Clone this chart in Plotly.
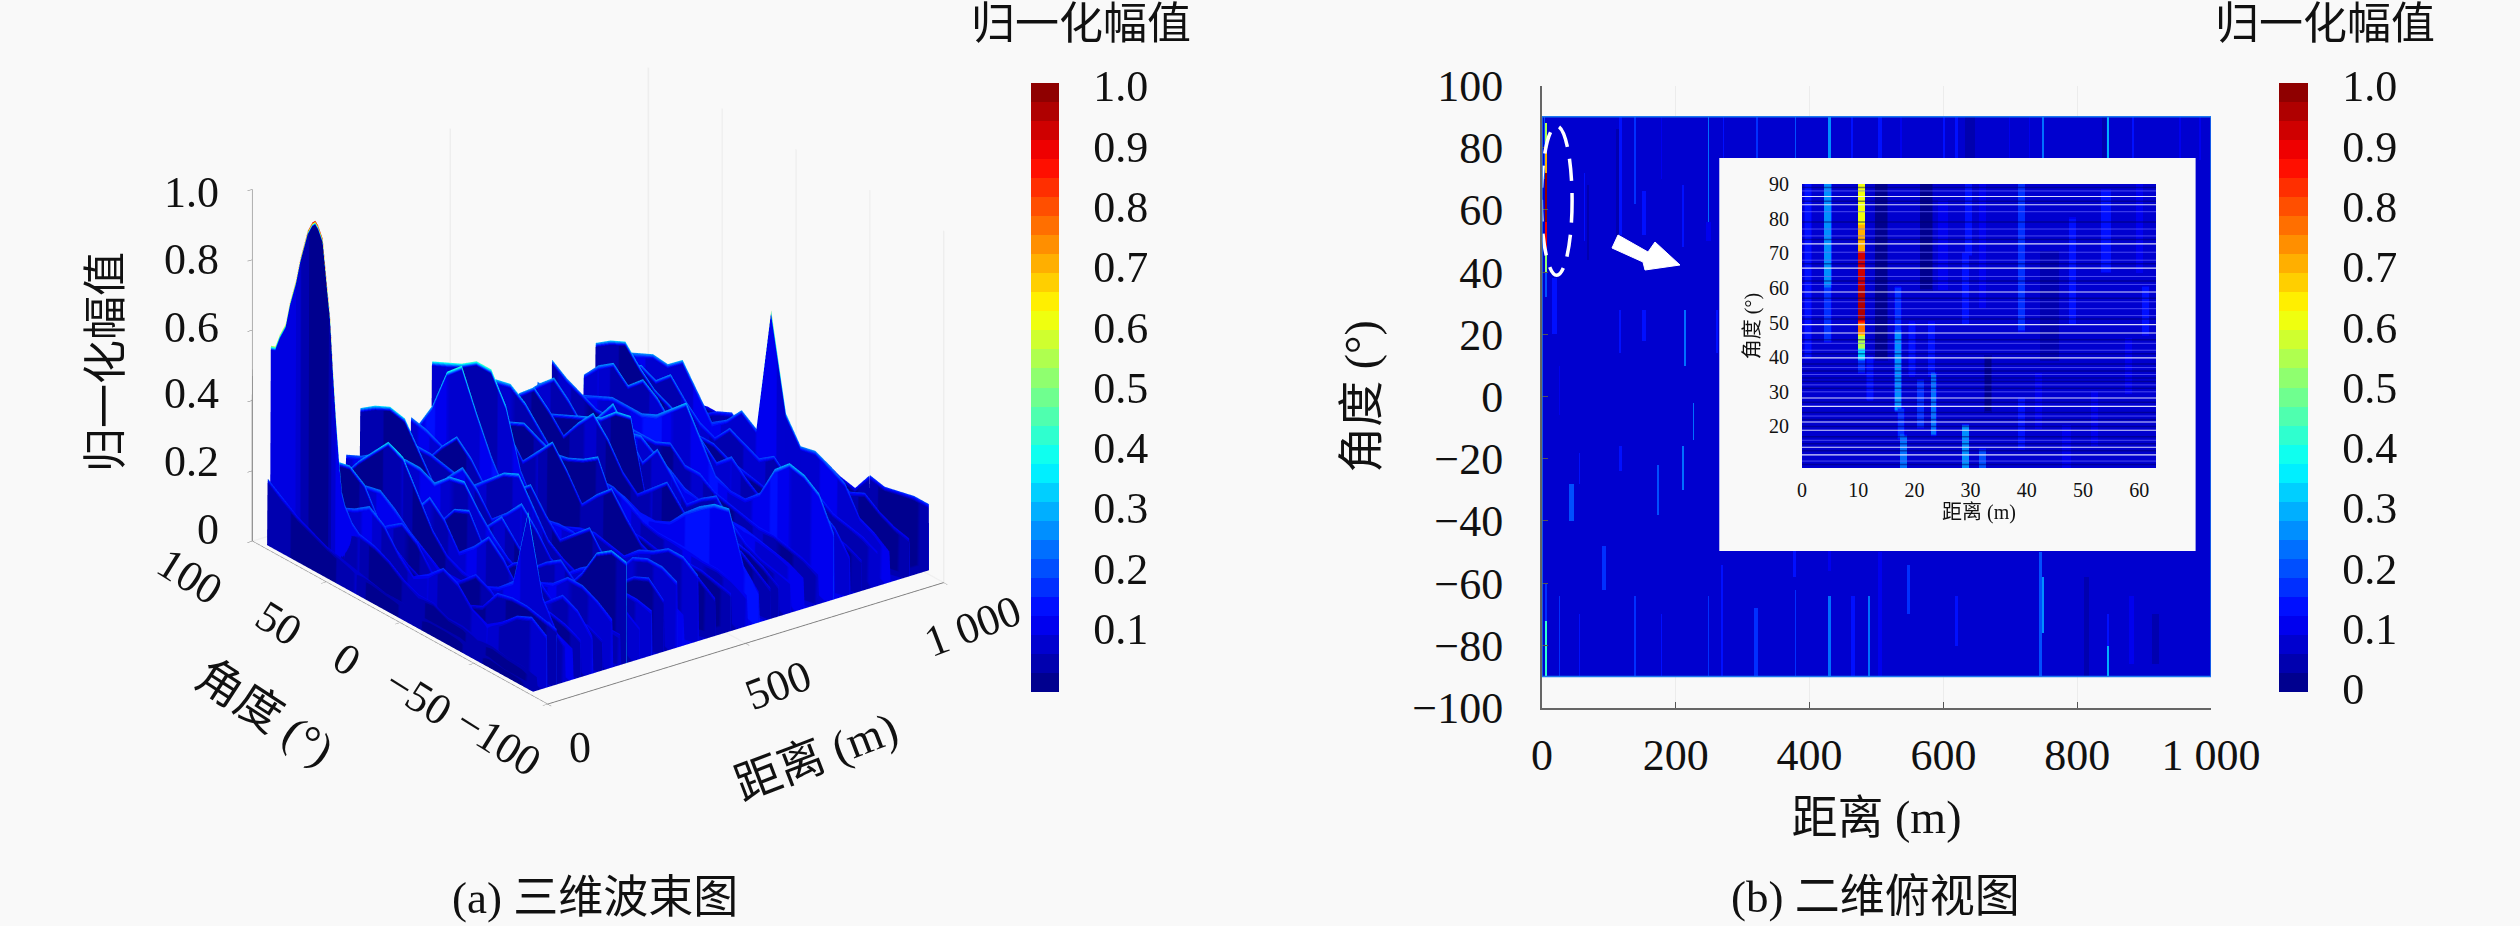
import numpy as np
import plotly.graph_objects as go

W, H = 2520, 926
SERIF = "Liberation Serif, Noto Sans CJK SC, serif"
BG = "#f9f9f9"

# ---------- data: 3D beam surface, curtains of amplitude against angle ----------
angle_nodes = [90, 80, 70, 60, 50, 40, 30, 20, 10, 0, -10, -20, -30, -40, -50, -60, -70, -80, -90]
ridge_ranges = [2, 10, 35, 60, 80, 100, 120, 150, 175, 200, 220, 236, 270, 300, 330, 364, 380, 417, 460, 500, 540, 570, 600, 620, 650, 683, 720, 760, 800, 830, 870, 900, 950, 1000]
ridge_values = [
    [.20, .17, .14, .12, .10, .09, .08, .07, .06, .06, .05, .05, .05, .05, .04, .04, .03, .03, .03],
    [.20, .18, .17, .17, .17, .17, .18, .17, .15, .12, .10, .10, .08, .08, .07, .07, .06, .06, .05],
    [.10, .12, .15, .18, .20, .22, .25, .22, .16, .12, .15, .19, .17, .12, .10, .13, .17, .19, .16],
    [.18, .20, .25, .30, .31, .28, .20, .15, .12, .10, .10, .10, .10, .12, .18, .19, .19, .18, .17],
    [.09, .12, .16, .20, .17, .14, .18, .21, .18, .12, .10, .14, .18, .16, .12, .10, .14, .16, .12],
    [.15, .17, .20, .22, .24, .25, .22, .18, .15, .12, .12, .12, .14, .16, .20, .42, .20, .12, .10],
    [.14, .18, .22, .28, .33, .38, .36, .28, .20, .15, .13, .12, .12, .13, .14, .15, .15, .14, .12],
    [.10, .14, .19, .24, .20, .15, .20, .26, .22, .15, .19, .24, .20, .14, .11, .15, .19, .17, .12],
    [.12, .16, .14, .17, .22, .18, .14, .18, .24, .26, .18, .13, .18, .21, .16, .12, .10, .12, .10],
    [.20, .22, .25, .27, .28, .28, .26, .30, .31, .25, .20, .16, .14, .14, .16, .20, .20, .18, .15],
    [.13, .17, .22, .19, .15, .21, .26, .22, .16, .20, .25, .20, .15, .19, .22, .18, .13, .10, .10],
    [.32, .35, .37, .36, .29, .22, .15, .14, .14, .15, .16, .14, .12, .12, .14, .20, .28, .31, .30],
    [.15, .20, .24, .21, .17, .23, .28, .24, .18, .22, .27, .22, .16, .14, .18, .21, .17, .13, .10],
    [.20, .22, .24, .24, .23, .22, .22, .26, .30, .32, .25, .18, .15, .13, .13, .14, .15, .15, .14],
    [.18, .22, .19, .25, .30, .26, .20, .18, .24, .28, .22, .17, .21, .25, .19, .14, .18, .20, .16],
    [.25, .24, .22, .20, .18, .18, .17, .16, .16, .17, .18, .18, .16, .14, .14, .20, .22, .22, .20],
    [.22, .30, .42, .46, .35, .25, .17, .14, .13, .13, .13, .13, .13, .13, .13, .13, .13, .12, .10],
    [.39, .41, .43, .46, .46, .38, .22, .14, .12, .13, .15, .16, .15, .14, .18, .20, .23, .23, .20],
    [.18, .22, .27, .32, .27, .21, .26, .31, .25, .18, .23, .27, .21, .16, .14, .16, .18, .15, .12],
    [.20, .22, .24, .26, .28, .26, .24, .25, .27, .30, .20, .14, .14, .13, .14, .14, .14, .13, .12],
    [.26, .32, .33, .30, .25, .20, .17, .18, .20, .20, .18, .15, .14, .14, .14, .13, .13, .12, .10],
    [.18, .20, .20, .20, .18, .16, .16, .17, .17, .16, .14, .14, .16, .21, .25, .28, .29, .15, .10],
    [.20, .26, .30, .26, .21, .27, .32, .27, .20, .16, .20, .24, .19, .14, .12, .14, .16, .13, .10],
    [.18, .20, .22, .24, .26, .28, .30, .34, .35, .15, .14, .14, .15, .14, .15, .16, .15, .13, .10],
    [.22, .27, .31, .27, .22, .27, .33, .27, .21, .27, .22, .16, .20, .23, .18, .14, .12, .11, .10],
    [.24, .24, .22, .20, .20, .22, .24, .25, .22, .20, .17, .16, .15, .15, .15, .14, .13, .12, .10],
    [.29, .26, .24, .22, .22, .22, .22, .22, .24, .20, .20, .17, .16, .15, .14, .14, .13, .12, .10],
    [.20, .20, .22, .24, .24, .24, .26, .30, .34, .26, .18, .16, .16, .20, .29, .33, .32, .29, .20],
    [.22, .27, .30, .26, .30, .27, .22, .25, .22, .18, .22, .18, .15, .14, .13, .18, .21, .18, .12],
    [.30, .33, .35, .30, .26, .24, .22, .20, .20, .18, .17, .16, .15, .15, .14, .14, .13, .12, .10],
    [.22, .24, .27, .25, .29, .24, .20, .18, .23, .21, .19, .22, .18, .16, .18, .15, .14, .13, .11],
    [.25, .27, .29, .285, .32, .255, .19, .22, .27, .24, .60, .33, .26, .27, .25, .225, .15, .13, .10],
    [.14, .17, .20, .18, .15, .18, .20, .16, .14, .18, .15, .19, .17, .19, .16, .18, .15, .13, .12],
    [.12, .12, .12, .13, .13, .14, .14, .14, .14, .16, .17, .16, .14, .13, .19, .18, .19, .20, .20],
]
ridge_shades = [.0, .0, .04, .0, .02, .06, .0, .05, .0, .05, .02, .0, .04, .04, .0, .05, .08, .04, .0, .0, .05, .10, .01, .0, .04, .07, .02, .08, .04, .0, .03, .06, .0, .0]
angle_shades = [.03, .05, .01, 0, 0, .04, .06, .01, 0, .03, .05, .0, 0, .02, .05, .01, 0, .02, .04]

# main lobe at 10 m, read at a finer angle step
peak_range = 10
peak_angles = [90, 87, 84, 80, 77, 73, 70, 65, 62, 60, 58, 55, 52, 50, 48, 46, 44, 42, 40, 35, 30]
peak_values = [.575, .58, .62, .66, .73, .80, .87, .96, .99, 1.0, .99, .96, .83, .75, .60, .47, .36, .27, .24, .20, .18]
peak_body = [.09, .09, .09, .09, .09, .09, .06, .04, 0, 0, 0, 0, 0, .04, .07, .09, .10, .10, .10, .10, .10]

# ---------- data: top view, stripes (range, top angle, bottom angle, value, width) ----------
seg_range = [3, 7, 7, 7, 7, 7, 7, 7, 7, 19, 27, 64, 69, 117, 112, 139, 153, 179, 211, 249, 249, 117, 153, 214, 261, 226, 211, 117, 57, 174, 44, 92, 27, 139, 57, 179, 249, 268, 321, 378, 378, 430, 430, 465, 488, 505, 271, 321, 378, 430, 463, 485, 505, 537, 602, 620, 640, 699, 729, 749, 846, 884, 953, 983, 745, 748, 547, 620, 846, 846, 881, 814, 918, 840]
seg_top = [90, 88, 80, 72, 55, 46, 40, -60, -72, 38, 10, 72, 68, 90, 85, 90, 66, 90, 68, 90, 56, 27, 27, 27, 27, -2, -17, -17, -19, -22, -28, -49, -65, -65, -70, -70, -65, -55, -68, -48, -62, -48, -65, -65, -65, -50, 90, 90, 90, 90, 90, 90, 90, 90, 90, 90, 90, 90, 90, 90, 90, 90, 90, 90, -50, -58, -55, -65, -80, -70, -65, -58, -70, 90]
seg_bottom = [70, 80, 72, 55, 46, 40, 32, -72, -90, 20, -5, 50, 45, 52, 50, 62, 52, 70, 48, 56, 50, 14, 18, 10, 14, -14, -30, -24, -27, -37, -40, -62, -90, -90, -90, -90, -90, -90, -90, -58, -90, -56, -90, -90, -90, -90, 77, 77, 77, 77, 77, 77, 77, 77, 77, 77, 77, 77, 77, 77, 77, 77, 77, 77, -90, -75, -70, -80, -90, -80, -85, -90, -85, 77]
seg_value = [.20, .55, .72, .98, .90, .50, .20, .17, .42, .13, .12, .15, .03, .15, .05, .18, .15, .12, .15, .24, .12, .15, .14, .23, .14, .24, .24, .15, .15, .21, .19, .17, .17, .18, .13, .13, .17, .14, .17, .15, .17, .10, .23, .14, .24, .12, .13, .17, .19, .25, .14, .25, .14, .12, .13, .13, .03, .11, .12, .22, .28, .15, .12, .12, .19, .26, .17, .14, .30, .15, .12, .03, .05, .04]
seg_width = [1, 2, 2, 2, 2, 2, 2, 2, 2, 6, 2, 2, 3, 3, 4, 2, 4, 2, 2, 2, 5, 2, 4, 2, 2, 2, 2, 4, 2, 2, 5, 5, 2, 2, 2, 2, 2, 2, 4, 4, 2, 4, 2, 2, 1, 3, 2, 2, 2, 2, 2, 1, 5, 2, 2, 2, 15, 2, 2, 2, 1, 3, 2, 2, 4, 1, 5, 5, 1, 2, 6, 8, 8, 5]
top_base_value = 0.07

# ---------- data: inset close-up, stripes ----------
inset_range = [10.5, 10.5, 10.5, 10.5, 10.5, 10.5, 10.5, 10.5, 4.5, 4.5, 12, 17, 17, 17.5, 18, 21, 23, 23.3, 19.5, 29.5, 29, 29, 32, 32, 39, 39, 39, 48, 54, 60, 61, 1, 25, 42, 47, 52, 58, 44, 14, 22, 33]
inset_top = [90, 78, 70, 60, 50, 46, 42, 39, 90, 60, 40, 60, 47, 25, 17, 33, 50, 35, 50, 90, 70, 20, 90, 13, 90, 78, 28, 80, 88, 90, 60, 90, 85, 35, 20, 30, 45, 70, 90, 90, 40]
inset_bottom = [78, 70, 60, 50, 46, 42, 39, 36, 60, 45, 28, 47, 25, 17, 8, 20, 35, 18, 35, 70, 50, 8, 55, 8, 78, 48, 14, 50, 65, 65, 47, 40, 60, 20, 8, 15, 30, 40, 40, 60, 25]
inset_value = [.62, .72, .93, .97, .78, .55, .33, .17, .26, .18, .14, .16, .26, .18, .23, .16, .14, .24, .13, .15, .14, .26, .12, .20, .18, .18, .14, .14, .13, .12, .15, .14, .11, .12, .11, .11, .12, .03, .02, .02, .01]
inset_width = [1.2, 1.2, 1.2, 1.2, 1.2, 1.2, 1.2, 1.2, 1, 1, 1.2, 1.2, 1, 1.2, 1.2, 1, 1, 1, 1.2, 1.2, 1.2, 1, 1, 1.2, 1.2, 1, 1, 1.2, 1.5, 1.2, 1, 1, 1.5, 1.2, 1.5, 1.2, 1.2, 3, 2, 2, 1]
inset_base_value = 0.06
inset_white_angles = [86.4, 84, 72.7, 65.7, 58.8, 49.4, 47, 39.8, 28.2, 25.8, 21.3, 18.9, 14, 11.8]
inset_light_angles = [88, 82, 77, 75, 70.3, 68, 63.3, 61, 56, 54, 52, 44, 42, 37, 35, 32, 30, 23, 16, 10]
inset_dark_angles = [89, 85, 79, 74, 67, 62, 57, 51, 45, 41, 38, 36, 34, 33, 31, 27, 24, 22, 20, 17, 15, 13, 9]

# ---------- data: ticks ----------
colorbar_ticks_left = [.1, .2, .3, .4, .5, .6, .7, .8, .9, 1.0]
colorbar_ticks_right = [0, .1, .2, .3, .4, .5, .6, .7, .8, .9, 1.0]
range_ticks = [0, 200, 400, 600, 800, 1000]
range_labels = ["0", "200", "400", "600", "800", "1 000"]
angle_ticks = [-100, -80, -60, -40, -20, 0, 20, 40, 60, 80, 100]
inset_range_ticks = [0, 10, 20, 30, 40, 50, 60]
inset_angle_ticks = [20, 30, 40, 50, 60, 70, 80, 90]

# ---------- MATLAB-like stepped jet ----------
def jet(t):
    r = np.clip(min(4*t-1.5, -4*t+4.5), 0, 1)
    g = np.clip(min(4*t-0.5, -4*t+3.5), 0, 1)
    b = np.clip(min(4*t+0.5, -4*t+2.5), 0, 1)
    return f"rgb({int(r*255)},{int(g*255)},{int(b*255)})"
N = 32
JET = []
for i in range(N):
    c = jet((i+.5)/N)
    JET += [[i/N, c], [(i+1)/N, c]]
CMIN, CMAX = -0.005, 1.005

# ---------- surface grids ----------
FLOOR = 0.012
EDGE = 0.013
a_sh = np.array(angle_shades)
xs, zs, cs = [0.0], [[FLOOR]*19], [[.05]*19]
for r, vals, sh in zip(ridge_ranges, ridge_values, ridge_shades):
    v = np.array(vals)
    body = sh + a_sh
    for dx, zz, cc in [(-3.0, np.full(19, FLOOR), body), (-0.8, v-EDGE, body), (0, v, v), (0.8, v-EDGE, body), (3.0, np.full(19, FLOOR), body)]:
        x = min(max(r+dx, xs[-1]+.01), 1000.0)
        xs.append(x)
        zs.append(list(zz))
        cs.append(list(cc))
zs = np.array(zs)
cs = np.array(cs)
ys = [90.01] + angle_nodes + [-90.01]
z_full = np.column_stack([np.full(len(xs), FLOOR), zs, np.full(len(xs), FLOOR)])
c_full = np.column_stack([cs[:, 0], cs, cs[:, -1]])

pv = np.array(peak_values)
pb = np.array(peak_body)
peak_x = [peak_range-2.5, peak_range-.5, peak_range, peak_range+.5, peak_range+2.5]
peak_z = np.vstack([np.full(len(pv), FLOOR), pv-.012, pv, pv-.012, np.full(len(pv), FLOOR)])
peak_c = np.vstack([pb, pb, pv, pb, pb])

# ---------- heatmap grids ----------
top_x = np.arange(1.25, 1000, 2.5)
top_y = np.arange(-89, 90, 2)
top_z = np.full((len(top_y), len(top_x)), top_base_value)
for r, t, b, v, w in zip(seg_range, seg_top, seg_bottom, seg_value, seg_width):
    top_z[np.ix_((top_y <= t) & (top_y >= b), np.abs(top_x-r) <= w/2+.6)] = v

in_x = np.arange(0, 63.01, .25)
in_y = np.arange(8, 90.01, 1)
in_z = np.full((len(in_y), len(in_x)), inset_base_value)
for r, t, b, v, w in zip(inset_range, inset_top, inset_bottom, inset_value, inset_width):
    in_z[np.ix_((in_y <= t) & (in_y >= b), np.abs(in_x-r) <= w/2+.01)] = v

# ---------- figure ----------
def px(x):
    return x/W
def py(y):
    return 1-y/H

TICK_FONT = dict(family=SERIF, size=44, color="#111")
fig = go.Figure()
fig.add_trace(go.Surface(
    x=xs, y=ys, z=z_full.T, surfacecolor=c_full.T, colorscale=JET, cmin=CMIN, cmax=CMAX,
    lighting=dict(ambient=1, diffuse=0, specular=0, roughness=1, fresnel=0),
    hoverinfo="skip", scene="scene",
    colorbar=dict(x=px(1031), xanchor="left", xpad=0, ypad=0, y=py(83), yanchor="top", len=609/H, thickness=28,
                  tickvals=colorbar_ticks_left, ticktext=[f"{t:.1f}" for t in colorbar_ticks_left],
                  ticks="outside", ticklen=26, tickcolor="rgba(0,0,0,0)", outlinewidth=0, tickfont=TICK_FONT)))
fig.add_trace(go.Surface(
    x=peak_x, y=peak_angles, z=peak_z.T, surfacecolor=peak_c.T, colorscale=JET, cmin=CMIN, cmax=CMAX, showscale=False,
    lighting=dict(ambient=1, diffuse=0, specular=0, roughness=1, fresnel=0), hoverinfo="skip", scene="scene"))
fig.add_trace(go.Heatmap(
    x=top_x, y=top_y, z=top_z, colorscale=JET, zmin=CMIN, zmax=CMAX, xaxis="x", yaxis="y", hoverinfo="skip",
    colorbar=dict(x=px(2279), xanchor="left", xpad=0, ypad=0, y=py(83), yanchor="top", len=609/H, thickness=29,
                  tickvals=colorbar_ticks_right,
                  ticktext=["0" if t == 0 else f"{t:.1f}" for t in colorbar_ticks_right],
                  ticks="outside", ticklen=26, tickcolor="rgba(0,0,0,0)", outlinewidth=0, tickfont=TICK_FONT)))
inset_box_x = [265, 977, 977, 265, 265]
inset_box_y = [76.7, 76.7, -49.7, -49.7, 76.7]
fig.add_trace(go.Scatter(x=inset_box_x, y=inset_box_y, mode="lines", fill="toself", fillcolor=BG,
                         line=dict(color=BG, width=0), xaxis="x", yaxis="y", hoverinfo="skip", showlegend=False))
fig.add_trace(go.Heatmap(
    x=in_x, y=in_y, z=in_z, colorscale=JET, zmin=CMIN, zmax=CMAX, zsmooth="best", xaxis="x2", yaxis="y2",
    showscale=False, hoverinfo="skip"))
for angles, col, wd in [(inset_dark_angles, "rgba(0,0,100,.5)", 1.5), (inset_light_angles, "rgba(110,110,255,.65)", 1), (inset_white_angles, "rgba(240,240,255,.9)", 1.1)]:
    hx, hy = [], []
    for a in angles:
        hx += [0, 63, None]
        hy += [a, a, None]
    fig.add_trace(go.Scatter(x=hx, y=hy, mode="lines", line=dict(color=col, width=wd), xaxis="x2", yaxis="y2",
                             hoverinfo="skip", showlegend=False))

title_font = dict(family=SERIF, size=46, color="#111")
small_font = dict(family=SERIF, size=20, color="#111")

EYE = 1.5
camera_eye = dict(x=-.545*EYE, y=-.731*EYE, z=.4117*EYE)
def scene_axis(**kw):
    return dict(showbackground=False, showline=True, linecolor="#777", linewidth=2, ticks="outside", ticklen=6, tickcolor="#777",
                showticklabels=False, title=dict(text=""), showspikes=False, zeroline=False, **kw)
arrow_path = "M {} {} L {} {} L {} {} L {} {} L {} {} L {} {} L {} {} Z".format(
    *[v for p in [(1612, 248), (1618, 235), (1648, 252), (1655, 242), (1680, 265), (1645, 270), (1643, 262)] for v in (px(p[0]), py(p[1]))])
fig.update_layout(
    width=W, height=H, margin=dict(l=0, r=0, t=0, b=0, autoexpand=False), paper_bgcolor=BG, plot_bgcolor=BG, showlegend=False,
    font=dict(family=SERIF, color="#111"),
    scene=dict(
        domain=dict(x=[px(212), px(984)], y=[py(772), py(0)]),
        aspectmode="manual", aspectratio=dict(x=1.28, y=1.28, z=1.0),
        camera=dict(projection=dict(type="orthographic"), eye=camera_eye, center=dict(x=0, y=0, z=0), up=dict(x=0, y=0, z=1)),
        xaxis=scene_axis(range=[0, 1000], tickvals=[0, 500, 1000], showgrid=True, gridcolor="#eeeeee", gridwidth=3),
        yaxis=scene_axis(range=[-100, 100], tickvals=[-100, -50, 0, 50, 100], showgrid=True, gridcolor="#eeeeee", gridwidth=3),
        zaxis=scene_axis(range=[0, 1], tickvals=[0, .2, .4, .6, .8, 1], showgrid=False),
    ),
    xaxis=dict(domain=[px(1542), px(2211)], range=[0, 1000], tickvals=range_ticks, ticktext=range_labels, ticks="inside", ticklen=6,
               tickcolor="#555", showline=True, linecolor="#666", linewidth=2, showgrid=True, gridcolor="#ececec", zeroline=False,
               tickfont=TICK_FONT, ticklabelstandoff=8,
               title=dict(text="距离 (m)", font=title_font, standoff=22)),
    yaxis=dict(domain=[py(707.5), py(85.6)], range=[-100, 100], tickvals=angle_ticks, ticks="inside", ticklen=6,
               tickcolor="#555", showline=True, linecolor="#666", linewidth=2, showgrid=False, zeroline=False,
               tickfont=TICK_FONT, ticklabelstandoff=28,
               title=dict(text="角度 (°)", font=title_font, standoff=20)),
    xaxis2=dict(domain=[px(1802), px(2156)], range=[0, 63], tickvals=inset_range_ticks, anchor="y2", showline=False, ticks="outside",
                ticklen=4, tickcolor="rgba(0,0,0,0)", showgrid=False, zeroline=False, tickfont=small_font,
                title=dict(text="距离 (m)", font=small_font, standoff=2)),
    yaxis2=dict(domain=[py(468), py(184)], range=[8, 90], tickvals=inset_angle_ticks, anchor="x2", showline=False, ticks="outside",
                ticklen=8, tickcolor="rgba(0,0,0,0)", showgrid=False, zeroline=False, tickfont=small_font,
                title=dict(text="角度 (°)", font=small_font, standoff=4)),
    shapes=[
        dict(type="circle", xref="x", yref="y", x0=-1, x1=45, y0=39, y1=87, line=dict(color="white", width=3.5, dash="22px,12px")),
        dict(type="rect", xref="x", yref="y", x0=0, x1=1000, y0=-90, y1=90, line=dict(color="#1c78f0", width=1.5)),
        dict(type="path", xref="paper", yref="paper", path=arrow_path, fillcolor="white", line=dict(color="white", width=1)),
    ],
)

annotations = []
def label(text, x, y, angle=0, size=44, xanchor="center"):
    annotations.append(dict(text=text, x=px(x), y=py(y), xref="paper", yref="paper", showarrow=False, textangle=angle,
                            xanchor=xanchor, yanchor="middle", font=dict(family=SERIF, size=size, color="#111")))

label("归一化幅值", 1081, 25)
label("归一化幅值", 2325, 25)
label("(a) 三维波束图", 595, 898, size=45)
label("(b) 二维俯视图", 1875, 897, size=45)
label("归一化幅值", 107, 362, angle=-90)
label("角度 (°)", 265, 712, angle=33, size=46)
label("距离 (m)", 816, 756, angle=-21, size=46)
for t, y in zip(["0", "0.2", "0.4", "0.6", "0.8", "1.0"], [529, 462, 394, 327, 259, 192]):
    label(t, 221, y, xanchor="right")
for t, x, y in zip(["100", "50", "0", "−50", "−100"], [190, 279, 347, 418, 498], [576, 623, 659, 696, 741]):
    label(t, x, y, angle=32)
for t, x, y, ang in zip(["0", "500", "1 000"], [580, 778, 972], [747, 685, 626], [-3, -21, -21]):
    label(t, x, y, angle=ang)
fig.update_layout(annotations=annotations)

fig.write_html("out.html", config=dict(displayModeBar=False),
               post_script="document.body.style.margin='0';document.body.style.overflow='hidden';")
